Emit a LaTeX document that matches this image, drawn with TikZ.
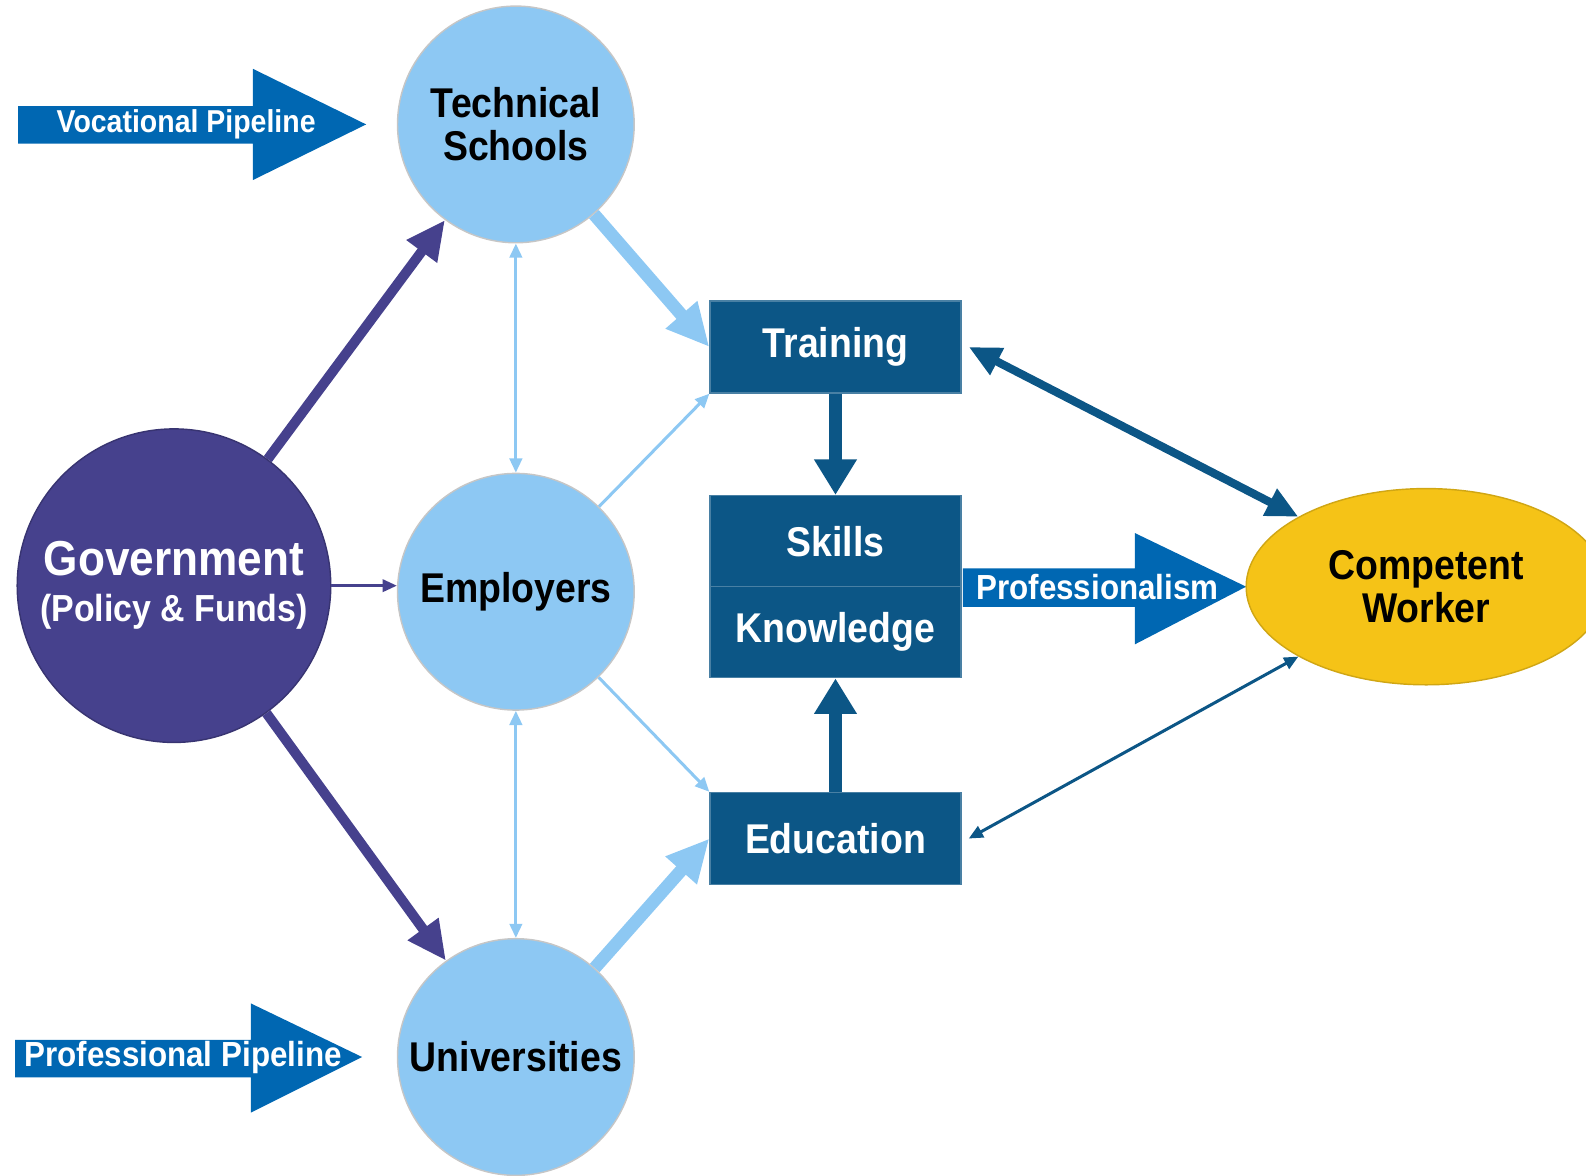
\documentclass[tikz,border=0pt]{standalone}
\usepackage{fontspec}
\setmainfont[FakeStretch=0.9]{Liberation Sans}
\usetikzlibrary{shapes.geometric,arrows.meta}

\definecolor{govpurple}{HTML}{46418D}
\definecolor{skyblue}{HTML}{8DC8F3}
\definecolor{boxblue}{HTML}{0C5686}
\definecolor{pipeblue}{HTML}{0067B2}
\definecolor{workergold}{HTML}{F5C317}

\tikzset{
	school/.style={circle,fill=skyblue,draw=gray!45,minimum size=2.34cm,inner sep=0pt,align=center,font=\fontsize{11.7}{12}\selectfont\bfseries},
	stage/.style={rectangle,fill=boxblue,draw=boxblue!75!white,minimum width=2.48cm,minimum height=0.91cm,inner sep=0pt,text=white,font=\fontsize{11.7}{12}\selectfont\bfseries},
	pipe/.style={text=white,inner sep=0pt,font=\fontsize{9.8}{11}\selectfont\bfseries},
	govarrow/.style={govpurple,line width=2.8pt,-{Triangle[length=11pt,width=10pt]}},
	skythick/.style={skyblue,line width=3.6pt,-{Triangle[length=12pt,width=11pt]}},
	skythin/.style={skyblue,line width=0.85pt,{Triangle[length=4pt,width=3.5pt]}-{Triangle[length=4pt,width=3.5pt]}},
	skyone/.style={skyblue,line width=0.85pt,-{Triangle[length=4pt,width=3.5pt]}},
	boxarrow/.style={boxblue,line width=3.4pt,-{Triangle[length=10pt,width=11.4pt]}}
}

\begin{document}
\begin{tikzpicture}
		\useasboundingbox (0,0) rectangle (15.68,-11.62);

		\fill[pipeblue] (0.18,-1.05) -- (2.50,-1.05) -- (2.50,-0.68) -- (3.62,-1.23) -- (2.50,-1.78) -- (2.50,-1.42) -- (0.18,-1.42) -- cycle;
		\fill[pipeblue] (0.15,-10.28) -- (2.48,-10.28) -- (2.48,-9.92) -- (3.58,-10.45) -- (2.48,-11.00) -- (2.48,-10.65) -- (0.15,-10.65) -- cycle;
		\fill[pipeblue] (9.52,-5.62) -- (11.22,-5.62) -- (11.22,-5.27) -- (12.32,-5.80) -- (11.22,-6.37) -- (11.22,-6.00) -- (9.52,-6.00) -- cycle;
		\node[pipe,font=\fontsize{8.9}{10}\selectfont\bfseries] (voclabel) at (1.84,-1.23) {Vocational Pipeline};
		\node[pipe] (proflabel) at (1.81,-10.45) {Professional Pipeline};
		\node[pipe] (prolabel) at (10.85,-5.80) {Professionalism};

		\node[circle,fill=govpurple,draw=govpurple!80!black,minimum size=3.1cm,inner sep=0pt,align=center,text=white] (Gov) at (1.72,-5.79)
			{{\fontsize{13.8}{15}\selectfont\bfseries Government}\\[1pt]{\fontsize{10.6}{12}\selectfont\bfseries (Policy \& Funds)}};

		\node[school] (TS) at (5.10,-1.23) {Technical\\Schools};
		\node[school] (Emp) at (5.10,-5.85) {Employers};
		\node[school] (Univ) at (5.10,-10.45) {Universities};

		\node[stage] (Training) at (8.26,-3.43) {Training};
		\node[stage,minimum height=0.9cm] (Skills) at (8.26,-5.35) {Skills};
		\node[stage,minimum height=0.9cm] (Knowledge) at (8.26,-6.25) {Knowledge};
		\node[stage] (Education) at (8.26,-8.29) {Education};

		\node[ellipse,fill=workergold,draw=workergold!85!black,minimum width=3.56cm,minimum height=1.94cm,inner sep=0pt,align=center,font=\fontsize{11.7}{12.2}\selectfont\bfseries] (Worker) at (14.10,-5.80) {Competent\\Worker};

		\draw[govarrow] (Gov) -- (TS);
		\draw[govarrow] (Gov) -- (Univ);
		\draw[govpurple,line width=0.7pt,-{Triangle[length=4pt,width=3.5pt]}] (Gov.east) -- (Emp.west |- Gov.east);

		\draw[skythin] (TS) -- (Emp);
		\draw[skythin] (Emp) -- (Univ);
		\draw[skythick] (TS) -- (Training.west);
		\draw[skythick] (Univ) -- (Education.west);
		\draw[skyone] (Emp) -- (Training.south west);
		\draw[skyone] (Emp) -- (Education.north west);

		\draw[boxarrow] (Training.south) -- (Skills.north);
		\draw[boxarrow] (Education.north) -- (Knowledge.south);
		\draw[boxblue,line width=2.3pt,{Triangle[length=9pt,width=8pt]}-{Triangle[length=9pt,width=8pt]}] ([xshift=2pt]Training.east) -- (Worker.north west);
		\draw[boxblue,line width=0.85pt,{Triangle[length=4pt,width=3.5pt]}-{Triangle[length=4pt,width=3.5pt]}] ([xshift=2pt]Education.east) -- (Worker.south west);
	\end{tikzpicture}
\end{document}
